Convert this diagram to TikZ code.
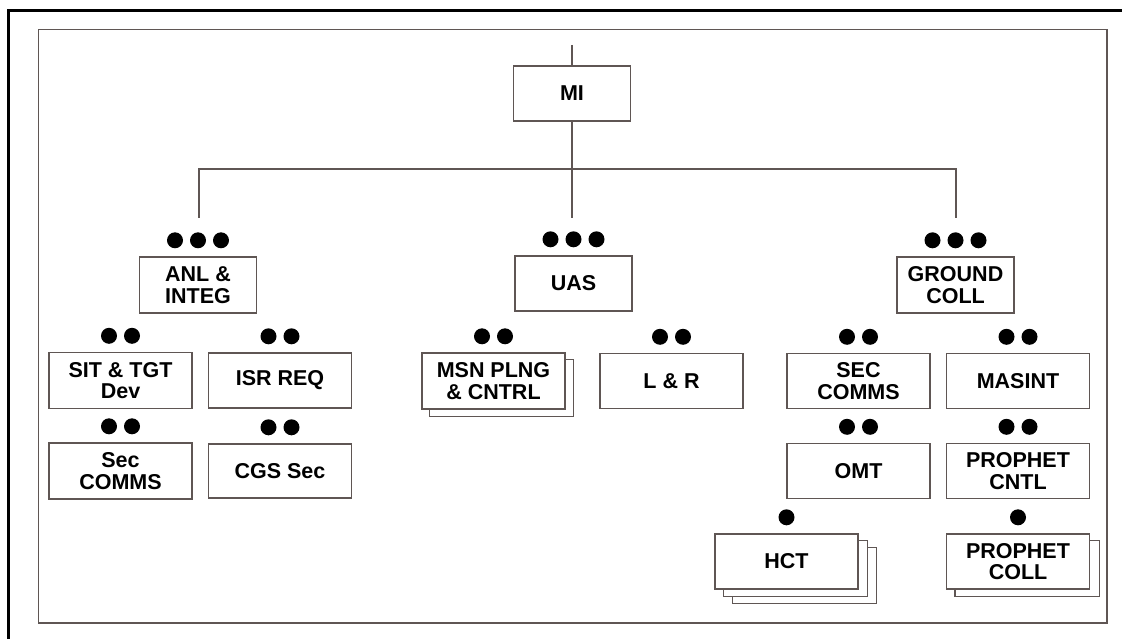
\documentclass[tikz,border=0pt]{standalone}
\usepackage{fontspec}
\setmainfont{Liberation Sans}
\usetikzlibrary{backgrounds,calc}
\definecolor{edgec}{RGB}{95,86,84}
\tikzset{
  unit/.style={draw=edgec, line width=1.4pt, fill=white,
    font=\fontsize{21.5}{21.5}\selectfont\bfseries, align=center,
    inner sep=0pt, minimum width=143pt, minimum height=56pt},
  topunit/.style={unit, minimum width=117pt},
  conn/.style={draw=edgec, line width=1.4pt},
  shadowbox/.style={draw=edgec, line width=1.4pt, fill=white},
}
\begin{document}
\begin{tikzpicture}[x=1pt,y=-1pt]
\useasboundingbox (0,0) rectangle (1122,639);
% frames
\draw[line width=2.6pt] (8.5,639) -- (8.5,10.5) -- (1122,10.5);
\draw[edgec, line width=1.4pt] (38.5,29.5) rectangle (1107,623);

% nodes
\node[topunit, minimum height=55pt] (MI) at (572,93.5) {MI};
\node[topunit] (ANL) at (198,285) {ANL \&\\INTEG};
\node[topunit, minimum height=55pt] (UAS) at (573.5,283.5) {UAS};
\node[topunit] (GC) at (955.5,285) {GROUND\\COLL};

\node[unit] (SIT) at (120.5,380.5) {SIT \& TGT\\Dev};
\node[unit, minimum height=55pt] (ISR) at (280,380.5) {ISR REQ};
\node[unit] (SC1) at (120.5,471) {Sec\\COMMS};
\node[unit, minimum height=54pt] (CGS) at (280,471) {CGS Sec};

\node[unit] (MSN) at (493.5,381) {MSN PLNG\\\& CNTRL};
\node[unit, minimum height=55pt] (LR) at (671.5,381) {L \& R};

\node[unit, minimum height=55pt] (SC2) at (858.5,381) {SEC\\COMMS};
\node[unit, minimum height=55pt] (MAS) at (1018,381) {MASINT};
\node[unit, minimum height=55pt] (OMT) at (858.5,471) {OMT};
\node[unit, minimum height=55pt] (PCN) at (1018,471) {PROPHET\\CNTL};
\node[unit, minimum height=55pt] (HCT) at (786.5,561.5) {HCT};
\node[unit, minimum height=55pt] (PCO) at (1018,561.5) {PROPHET\\COLL};

% stacked copies
\begin{scope}[on background layer]
  \draw[shadowbox] ($(MSN.south west)+(8,7)$) rectangle ($(MSN.north east)+(8,7)$);
  \draw[shadowbox] ($(HCT.south west)+(18,14)$) rectangle ($(HCT.north east)+(18,14)$);
  \draw[shadowbox] ($(HCT.south west)+(9,7)$) rectangle ($(HCT.north east)+(9,7)$);
  \draw[shadowbox] ($(PCO.south west)+(9,7)$) rectangle ($(PCO.north east)+(9,7)$);
\end{scope}

% connectors
\coordinate (miTop) at (572,45);
\coordinate (topL) at (199,169);
\coordinate (topR) at (956,169);
\coordinate (lEnd) at (199,218);
\coordinate (rEnd) at (956,218);
\coordinate (cEnd) at (572,218);
\draw[conn] (miTop) -- (MI.north);
\draw[conn] (MI.south) -- (cEnd);
\draw[conn] (lEnd) -- (topL) -- (topR) -- (rEnd);

% rank dots
\foreach \n/\k in {ANL/3,UAS/3,GC/3,SIT/2,ISR/2,SC1/2,CGS/2,MSN/2,LR/2,SC2/2,MAS/2,OMT/2,PCN/2,HCT/1,PCO/1}{
  \foreach \i in {1,...,\k}{
    \fill ($(\n.north)+({(\i-(\k+1)/2)*23},-16)$) circle[radius=8pt];
  }
}
\end{tikzpicture}
\end{document}
